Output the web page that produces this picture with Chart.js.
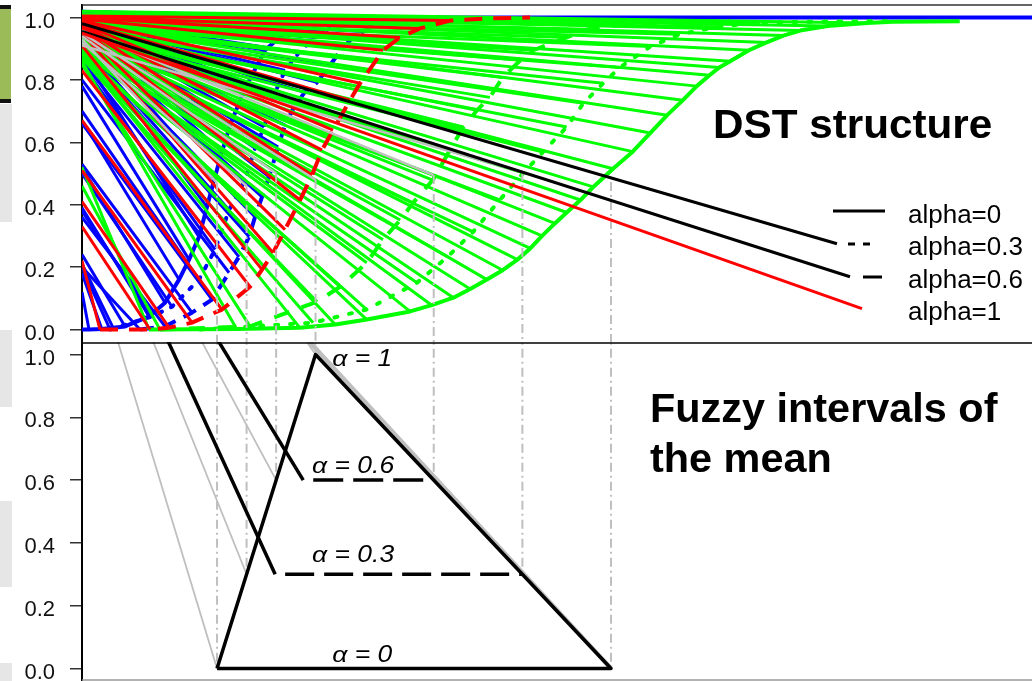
<!DOCTYPE html>
<html>
<head>
<meta charset="utf-8">
<script src="https://cdn.jsdelivr.net/npm/chart.js@4.4.1/dist/chart.umd.min.js"></script>
<style>
  html, body { margin: 0; padding: 0; background: #fff; }
  #wrap { position: relative; width: 1032px; height: 681px; overflow: hidden; background: #fff; }
  .tab { position: absolute; left: 0; width: 12px; background: #e6e6e6; }
  canvas { position: absolute; left: 0; }
</style>
</head>
<body>
<div id="wrap">
  <div class="tab" style="top:5px;height:98px;width:11px;background:#9bbb59;border-top:4px solid #111;border-bottom:4px solid #111;box-sizing:border-box;"></div>
  <div class="tab" style="top:104px;height:118px;"></div>
  <div class="tab" style="top:330px;height:77px;"></div>
  <div class="tab" style="top:501px;height:86px;"></div>
  <div class="tab" style="top:663px;height:18px;"></div>
  <canvas id="dst" width="1032" height="342" style="top:0"></canvas>
  <canvas id="fuzzy" width="1032" height="339" style="top:342px"></canvas>
</div>
<script>
// ---------- axis ----------
const X_MIN = -0.371, X_MAX = 9.274;
const Y_MIN = -0.04, Y_MAX = 1.04;
const tickValues = [0, 0.2, 0.4, 0.6, 0.8, 1.0];

// ---------- DST structure: cumulative curves and focal-element fans ----------
// blue, alpha = 0 (solid)
const blueSolidX = [-0.371, -0.30, -0.17, -0.056, 0.066, 0.31, 0.472, 0.614, 0.716, 0.817, 0.898, 0.970, 1.05, 1.132, 1.284, 1.487, 1.69, 1.944, 2.35, 2.858, 9.274];
const blueSolidY = [0, 0, 0.002, 0.006, 0.01, 0.042, 0.086, 0.16, 0.224, 0.297, 0.393, 0.479, 0.569, 0.655, 0.773, 0.895, 0.952, 0.984, 0.997, 1.0, 1.0];
const blueSolidStart = [null, 0.12, 0.18, 0.21, 0.24, 0.39, 0.52, 0.67, 0.78, 0.88, 0.93, 0.96, 0.975, 0.985, 0.99, 1.0, 1.01, 1.015, 1.02, null, null];
// blue, alpha = 0.3 (dotted)
const blueDotX = [-0.086, 0.34, 0.543, 0.817, 0.98, 1.122, 1.284, 1.386, 1.477, 1.589, 1.69, 1.832, 1.995, 2.096, 2.32, 2.655, 3.061];
const blueDotY = [0, 0.042, 0.073, 0.16, 0.256, 0.383, 0.479, 0.581, 0.649, 0.76, 0.83, 0.888, 0.936, 0.958, 0.987, 0.997, 1.0];
const blueDotStart = [0.20, 0.38, 0.50, 0.70, 0.85, 0.92, 0.95, 0.965, 0.975, 0.985, 0.99, 0.995, 1.0, 1.005, 1.01, null, null];
// blue, alpha = 0.6 (dashed)
const blueDashX = [0.218, 0.472, 0.746, 0.949, 1.122, 1.223, 1.325, 1.386, 1.457, 1.528, 1.62, 1.69, 1.792, 1.89, 2.015, 2.147, 2.279, 2.38, 2.482, 2.624, 2.858, 3.264];
const blueDashY = [0, 0.01, 0.054, 0.096, 0.182, 0.233, 0.297, 0.361, 0.425, 0.489, 0.585, 0.655, 0.719, 0.76, 0.792, 0.847, 0.904, 0.936, 0.955, 0.981, 0.997, 1.0];
const blueDashStart = [0.20, 0.36, 0.53, 0.66, 0.80, 0.86, 0.90, 0.93, 0.945, 0.955, 0.965, 0.97, 0.975, 0.98, 0.985, 0.99, 0.995, 1.0, 1.005, 1.01, null, null];
// red (dashed)
const redX = [-0.188, 0.32, 0.513, 0.746, 1.05, 1.335, 1.457, 1.569, 1.69, 1.843, 1.965, 2.066, 2.178, 2.35, 2.452, 2.685, 2.858, 3.061, 3.365, 3.77, 4.178];
const redY = [0, 0, 0.006, 0.022, 0.064, 0.137, 0.192, 0.246, 0.32, 0.415, 0.495, 0.575, 0.639, 0.735, 0.789, 0.895, 0.936, 0.965, 0.99, 0.997, 1.0];
const redStart = [0.22, 0.33, 0.41, 0.51, 0.67, 0.83, 0.91, 0.95, 0.96, 0.965, 0.97, 0.975, 0.98, 0.985, 0.99, 0.995, 1.0, 1.0, 1.005, null, null];
// green, alpha = 0 (solid)
const greenSolidX = [0.31, 1.2, 1.84, 2.2, 2.52, 2.96, 3.18, 3.40, 3.57, 3.74, 3.90, 4.05, 4.18, 4.30, 4.43, 4.55, 4.69, 4.82, 5.02, 5.22, 5.40, 5.57, 5.73, 5.87, 6.0, 6.10, 6.21, 6.40, 6.58, 6.75, 6.92, 7.20, 7.60, 7.86, 8.54];
const greenSolidY = [0, 0.002, 0.006, 0.016, 0.032, 0.058, 0.078, 0.102, 0.13, 0.16, 0.19, 0.224, 0.26, 0.30, 0.34, 0.375, 0.415, 0.457, 0.515, 0.57, 0.63, 0.687, 0.735, 0.78, 0.815, 0.84, 0.86, 0.895, 0.92, 0.942, 0.958, 0.973, 0.982, 0.986, 0.988];
const greenSolidStart = [0.52, 0.86, 0.88, 0.885, 0.89, 0.895, 0.90, 0.905, 0.91, 0.915, 0.92, 0.925, 0.93, 0.935, 0.94, 0.945, 0.95, 0.955, 0.96, 0.965, 0.97, 0.975, 0.98, 0.985, 0.99, 0.993, 0.996, 1.0, 1.003, 1.006, 1.01, 1.013, 1.02, null, null];
// green, alpha = 0.3 (dotted)
const greenDotX = [0.83, 1.975, 2.52, 3.03, 3.34, 3.60, 3.87, 4.11, 4.31, 4.55, 4.72, 4.92, 5.09, 5.40, 5.70, 6.08, 6.51, 7.25, 7.83];
const greenDotY = [0, 0.022, 0.064, 0.15, 0.233, 0.313, 0.415, 0.502, 0.569, 0.649, 0.725, 0.789, 0.84, 0.907, 0.946, 0.970, 0.984, 0.987, 0.988];
const greenDotStart = [null, 0.87, 0.88, 0.89, 0.90, 0.91, 0.92, 0.93, 0.94, 0.95, 0.96, 0.965, 0.97, 0.98, 0.99, 1.0, 1.01, null, null];
// green, alpha = 0.6 (dashed)
const greenDashX = [0.42, 1.335, 2.015, 2.25, 2.52, 2.685, 2.86, 2.99, 3.19, 3.365, 3.50, 3.64, 3.77, 3.90, 4.08, 4.21, 4.55, 4.76, 5.22, 5.80, 6.21];
const greenDashY = [0, 0.01, 0.089, 0.137, 0.214, 0.288, 0.351, 0.406, 0.479, 0.575, 0.649, 0.703, 0.744, 0.808, 0.863, 0.895, 0.936, 0.962, 0.981, 0.986, 0.988];
const greenDashStart = [0.46, 0.85, 0.87, 0.88, 0.89, 0.90, 0.91, 0.92, 0.93, 0.94, 0.95, 0.955, 0.96, 0.97, 0.98, 0.985, 0.99, 1.0, 1.01, null, null];

// ---------- alpha-cut bounds of the fuzzy mean ----------
const cutX      = [1.0, 1.3, 1.6, 2.0, 3.2, 4.1, 5.0];
const cutAlpha  = [0, 0.3, 0.6, 1.0, 0.6, 0.3, 0];
const cutTopY   = [0.47, 0.46, 0.50, 0.48, 0.495, 0.505, 0.473];   // where each bound meets the DST panel
const cutGrayStart = [0.93, 0.92, 0.94, 0.95, 0.958, 0.91, null];  // grey projection lines from the left edge

// legend pointer lines
const pointerStartY = [0.98, 0.955, 0.95];
const pointerEndX   = [7.294, 7.426, 7.548];
const pointerEndY   = [0.275, 0.169, 0.067];
const pointerColor  = ['#000000', '#000000', '#ff0000'];

// ---------- fuzzy interval panel ----------
const fuzzyX = [1, 2, 5, 1];
const fuzzyY = [0, 1, 0, 0];
const projTopX = [-0.015, 0.34, 0.83, 1.89];          // thin grey lines to the left bounds
const rightProjTop = [1.94, 1.04];                     // thick grey line along the right side
const rightProjEnd = [5.0, 0];
const levelAlpha  = [0.3, 0.6];
const levelTopX   = [0.492, 1.0];
const levelStartX = [1.59, 1.875];
const levelEndX   = [4.1, 3.2];
const alphaLabels = ['α = 1', 'α = 0.6', 'α = 0.3', 'α = 0'];
const alphaLabelX = [2.17, 1.965, 1.965, 2.17];
const alphaLabelY = [0.962, 0.623, 0.339, 0.022];

const legendLabels = ['alpha=0', 'alpha=0.3', 'alpha=0.6', 'alpha=1'];

// ---------- helpers ----------
const FONT = '"Liberation Sans", Arial, sans-serif';
const BLUE = '#0000ff', RED = '#ff0000', GREEN = '#00ff00', GREY = '#bfbfbf';

function curve(xs, ys) { return xs.map((x, i) => ({ x, y: ys[i] })); }
function fan(xs, ys, starts) {
  const pts = [];
  xs.forEach((x, i) => {
    if (starts[i] == null) return;
    pts.push({ x: X_MIN, y: starts[i] }, { x, y: ys[i] }, { x, y: null });
  });
  return pts;
}
function line(data, color, width, dash, cap, dashOffset) {
  return {
    data, showLine: true, borderColor: color, backgroundColor: color,
    borderWidth: width, borderDash: dash || [], borderDashOffset: dashOffset || 0,
    borderCapStyle: cap || 'butt', borderJoinStyle: 'round',
    pointRadius: 0, pointHoverRadius: 0, fill: false, tension: 0, spanGaps: false
  };
}
function ordered(list) { return list.map((d, i) => Object.assign(d, { order: 1000 - i })); }

function yAxis() {
  return {
    type: 'linear', min: Y_MIN, max: Y_MAX,
    afterFit(s) { s.width = 82; s.paddingTop = 0; s.paddingBottom = 0; },
    afterBuildTicks(s) { s.ticks = tickValues.map(v => ({ value: v })); },
    ticks: { callback: v => Number(v).toFixed(1), font: { family: FONT, size: 22 }, color: '#111',
             padding: 15, labelOffset: 4, autoSkip: false },
    grid: { drawOnChartArea: false, drawTicks: true, tickLength: 12, color: '#333', lineWidth: 1.5 },
    border: { display: true, color: '#000', width: 2 }
  };
}
function baseOptions(padTop) {
  return {
    responsive: false, animation: false, devicePixelRatio: 1, events: [],
    layout: { autoPadding: false, padding: { top: padTop, bottom: 0, left: 0, right: 0 } },
    plugins: { legend: { display: false }, tooltip: { enabled: false } },
    scales: { x: { type: 'linear', min: X_MIN, max: X_MAX, display: false }, y: yAxis() }
  };
}
function drawText(ctx, text, x, y, font, sx) {
  ctx.save();
  ctx.font = font; ctx.fillStyle = '#000'; ctx.textAlign = 'left'; ctx.textBaseline = 'alphabetic';
  ctx.translate(x, y); ctx.scale(sx || 1, 1); ctx.fillText(text, 0, 0);
  ctx.restore();
}
function seg(ctx, x1, y1, x2, y2, color, width, dash) {
  ctx.save();
  ctx.strokeStyle = color; ctx.lineWidth = width; ctx.setLineDash(dash || []);
  ctx.beginPath(); ctx.moveTo(x1, y1); ctx.lineTo(x2, y2); ctx.stroke();
  ctx.restore();
}

// ---------- DST structure panel ----------
const verticalTop = [], grayTop = [];
cutX.forEach((x, i) => {
  verticalTop.push({ x, y: cutTopY[i] }, { x, y: -0.2 }, { x, y: null });
  if (cutGrayStart[i] != null) grayTop.push({ x: X_MIN, y: cutGrayStart[i] }, { x, y: cutTopY[i] }, { x, y: null });
});

// drawn bottom to top: blue family, green family, red family, then guides
const dstSets = ordered([
  line(fan(blueSolidX, blueSolidY, blueSolidStart), BLUE, 3),
  line(fan(blueDotX, blueDotY, blueDotStart), BLUE, 3),
  line(fan(blueDashX, blueDashY, blueDashStart), BLUE, 3),
  line(curve(blueSolidX, blueSolidY), BLUE, 4),
  line(curve(blueDotX, blueDotY), BLUE, 4, [3, 10], 'round'),
  line(curve(blueDashX, blueDashY), BLUE, 4, [14, 9]),
  line(fan(greenSolidX, greenSolidY, greenSolidStart), GREEN, 3),
  line(fan(greenDotX, greenDotY, greenDotStart), GREEN, 3),
  line(fan(greenDashX, greenDashY, greenDashStart), GREEN, 3),
  line(curve(greenSolidX, greenSolidY), GREEN, 4),
  line(curve(greenDotX, greenDotY), GREEN, 4, [3, 12], 'round'),
  line(curve(greenDashX, greenDashY), GREEN, 4, [16, 13]),
  line(fan(redX, redY, redStart), RED, 3),
  line(curve(redX, redY), RED, 4, [18, 11]),
  line(grayTop, GREY, 2.5),
  line(verticalTop, GREY, 2, [9, 4, 2, 4]),
  ...pointerEndX.map((x, i) => line([{ x: X_MIN, y: pointerStartY[i] }, { x, y: pointerEndY[i] }], pointerColor[i], 3))
]);

const dstDecor = {
  id: 'dstDecor',
  afterDraw(chart) {
    const ctx = chart.ctx, a = chart.chartArea;
    seg(ctx, a.left, a.top, chart.width, a.top, '#333', 1.5);
    drawText(ctx, 'DST structure', 713, 138, 'bold 41px ' + FONT, 1.03);
    // legend
    const lf = '26px ' + FONT;
    legendLabels.forEach((t, i) => drawText(ctx, t, 908, 223 + i * 32.3, lf));
    seg(ctx, 833, 211, 885, 211, '#000', 3);
    seg(ctx, 848, 244, 871, 244, '#000', 3, [7, 8]);
    seg(ctx, 863, 277, 882, 277, '#000', 3);
  }
};

new Chart(document.getElementById('dst'), {
  type: 'scatter',
  data: { datasets: dstSets },
  options: baseOptions(5),
  plugins: [dstDecor]
});

// ---------- fuzzy interval panel ----------
const verticalBottom = [], projLeft = [];
cutX.forEach((x, i) => { verticalBottom.push({ x, y: 1.2 }, { x, y: cutAlpha[i] }, { x, y: null }); });
projTopX.forEach((x, i) => { projLeft.push({ x, y: Y_MAX + 0.01 }, { x: cutX[i], y: cutAlpha[i] }, { x, y: null }); });

const fuzzySets = ordered([
  line(verticalBottom, GREY, 2, [9, 4, 2, 4]),
  line(projLeft, GREY, 1.8),
  line([{ x: rightProjTop[0], y: rightProjTop[1] }, { x: rightProjEnd[0], y: rightProjEnd[1] }], GREY, 4.5),
  line(curve(fuzzyX, fuzzyY), '#000', 3.5),
  ...levelAlpha.map((a, i) => line([{ x: levelTopX[i], y: Y_MAX + 0.01 }, { x: levelStartX[i], y: a }], '#000', 3.5)),
  line([{ x: levelStartX[0], y: levelAlpha[0] }, { x: levelEndX[0], y: levelAlpha[0] }], '#000', 3.5, [29, 10], 'butt', 29),
  line([{ x: levelStartX[1], y: levelAlpha[1] }, { x: levelEndX[1], y: levelAlpha[1] }], '#000', 3.5, [30, 10], 'butt', 30)
]);

const fuzzyDecor = {
  id: 'fuzzyDecor',
  afterDraw(chart) {
    const ctx = chart.ctx, a = chart.chartArea;
    const xs = chart.scales.x, ys = chart.scales.y;
    seg(ctx, a.left, 1, chart.width, 1, '#000', 1.5);
    seg(ctx, a.left, 338, chart.width, 338, '#999', 1.5);
    drawText(ctx, 'Fuzzy intervals of', 650, 80, 'bold 41px ' + FONT, 1.01);
    drawText(ctx, 'the mean', 650, 130, 'bold 41px ' + FONT, 1.01);
    alphaLabels.forEach((t, i) => {
      drawText(ctx, t, xs.getPixelForValue(alphaLabelX[i]), ys.getPixelForValue(alphaLabelY[i]),
               'italic 23px ' + FONT, 1.15);
    });
  }
};

new Chart(document.getElementById('fuzzy'), {
  type: 'scatter',
  data: { datasets: fuzzySets },
  options: baseOptions(0),
  plugins: [fuzzyDecor]
});
</script>
</body>
</html>
